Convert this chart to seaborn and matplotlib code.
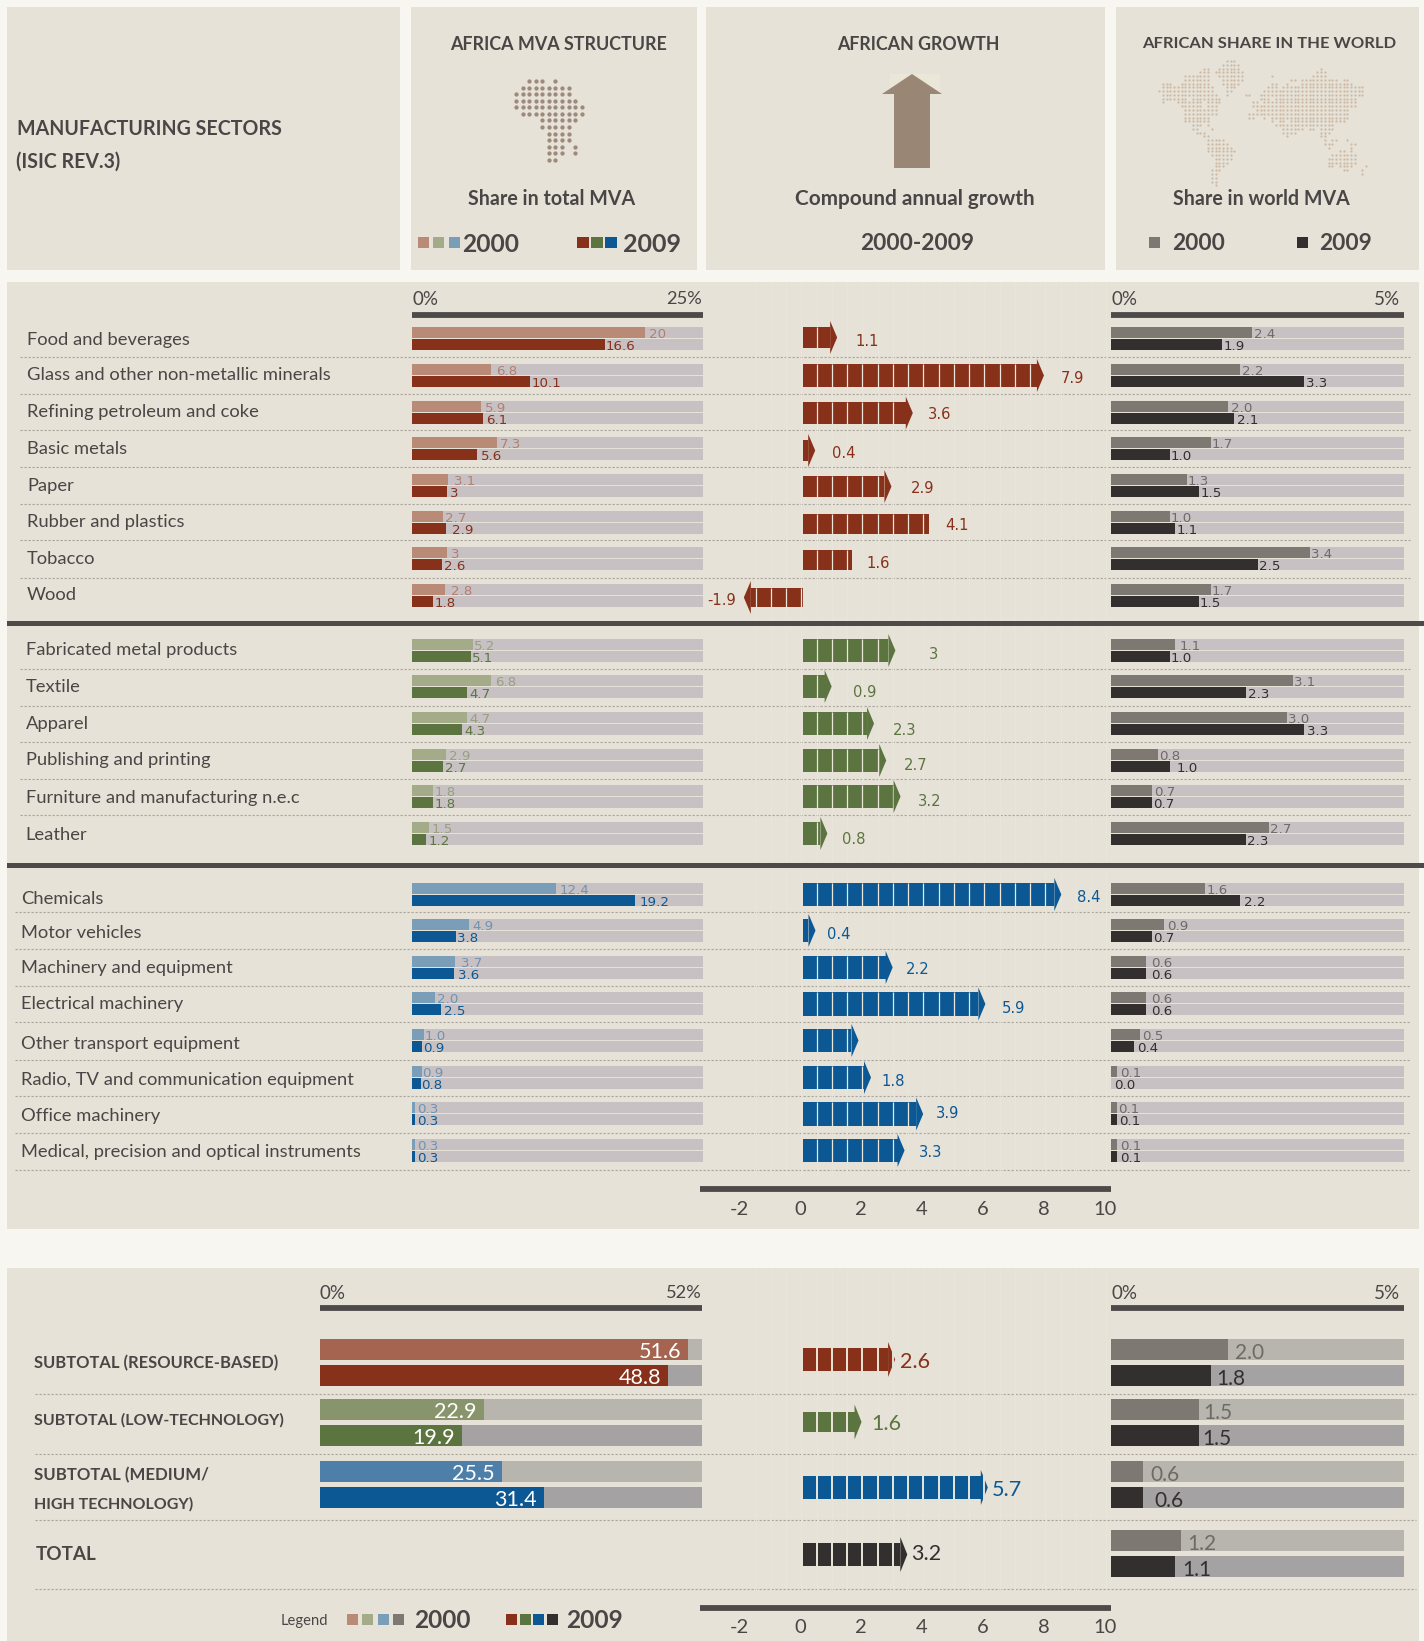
import numpy as np
import pandas as pd
import matplotlib
matplotlib.use("Agg")
import matplotlib.pyplot as plt
import seaborn as sns

sns.set_theme(style="white")
NARROW = ["Lato", "DejaVu Sans"]
WIDE = ["DejaVu Sans"]
plt.rcParams["font.family"] = NARROW

# ------------------------------------------------------------------ data
sectors = ["Food and beverages", "Glass and other non-metallic minerals", "Refining petroleum and coke",
           "Basic metals", "Paper", "Rubber and plastics", "Tobacco", "Wood",
           "Fabricated metal products", "Textile", "Apparel", "Publishing and printing",
           "Furniture and manufacturing n.e.c", "Leather",
           "Chemicals", "Motor vehicles", "Machinery and equipment", "Electrical machinery",
           "Other transport equipment", "Radio, TV and communication equipment", "Office machinery",
           "Medical, precision and optical instruments"]
mva_2000 = [20, 6.8, 5.9, 7.3, 3.1, 2.7, 3, 2.8, 5.2, 6.8, 4.7, 2.9, 1.8, 1.5, 12.4, 4.9, 3.7, 2.0, 1.0, 0.9, 0.3, 0.3]
mva_2009 = [16.6, 10.1, 6.1, 5.6, 3, 2.9, 2.6, 1.8, 5.1, 4.7, 4.3, 2.7, 1.8, 1.2, 19.2, 3.8, 3.6, 2.5, 0.9, 0.8, 0.3, 0.3]
mva_lab_2000 = ["20", "6.8", "5.9", "7.3", "3.1", "2.7", "3", "2.8", "5.2", "6.8", "4.7", "2.9", "1.8", "1.5", "12.4", "4.9", "3.7", "2.0", "1.0", "0.9", "0.3", "0.3"]
mva_lab_2009 = ["16.6", "10.1", "6.1", "5.6", "3", "2.9", "2.6", "1.8", "5.1", "4.7", "4.3", "2.7", "1.8", "1.2", "19.2", "3.8", "3.6", "2.5", "0.9", "0.8", "0.3", "0.3"]
share_2000 = [2.4, 2.2, 2.0, 1.7, 1.3, 1.0, 3.4, 1.7, 1.1, 3.1, 3.0, 0.8, 0.7, 2.7, 1.6, 0.9, 0.6, 0.6, 0.5, 0.1, 0.1, 0.1]
share_2009 = [1.9, 3.3, 2.1, 1.0, 1.5, 1.1, 2.5, 1.5, 1.0, 2.3, 3.3, 1.0, 0.7, 2.3, 2.2, 0.7, 0.6, 0.6, 0.4, 0.0, 0.1, 0.1]
growth_drawn = [1.12, 7.9, 3.6, 0.4, 2.9, 4.14, 1.6, -1.94, 3.03, 0.94, 2.33, 2.73, 3.2, 0.8, 8.47, 0.41, 2.94, 5.98, 1.82, 2.23, 3.94, 3.33]
growth_label = ["1.1", "7.9", "3.6", "0.4", "2.9", "4.1", "1.6", "-1.9", "3", "0.9", "2.3", "2.7", "3.2", "0.8", "8.4", "0.4", "2.2", "5.9", "", "1.8", "3.9", "3.3"]
has_head = [True] * 5 + [False, False] + [True] * 15

sum_names = ["resource", "low", "medium"]
sum_mva_2000 = [51.6, 22.9, 25.5]
sum_mva_2009 = [48.8, 19.9, 31.4]
sum_share_2000 = [2.0, 1.5, 0.55, 1.2]
sum_share_2009 = [1.7, 1.5, 0.55, 1.1]
sum_share_lab_2000 = ["2.0", "1.5", "0.6", "1.2"]
sum_share_lab_2009 = ["1.8", "1.5", "0.6", "1.1"]
sum_growth_drawn = [3.02, 1.92, 6.06, 3.42]
sum_growth_label = ["2.6", "1.6", "5.7", "3.2"]
growth_ticks = [-2, 0, 2, 4, 6, 8, 10]

# dot maps: Africa rows as column runs; world rows as column runs
africa_runs = [[(2, 4), (6, 6)], [(1, 8)], [(0, 8)], [(0, 9)], [(0, 10)], [(1, 10)], [(4, 9)], [(4, 8)],
               [(5, 8)], [(5, 8)], [(5, 7), (9, 9)], [(5, 7), (9, 9)], [(5, 6)]]
world_runs = [[(18, 20)], [(17, 21)], [(12, 13), (16, 21), (43, 43)], [(11, 13), (15, 22), (42, 44)],
              [(7, 13), (16, 22), (30, 30), (41, 44)], [(7, 13), (17, 22), (35, 36), (38, 47), (49, 50)],
              [(1, 3), (6, 13), (17, 21), (30, 31), (34, 34), (38, 48), (49, 51)],
              [(1, 14), (18, 20), (29, 31), (33, 54)], [(0, 14), (18, 19), (28, 54)],
              [(1, 15), (18, 18), (23, 24), (27, 54)], [(1, 7), (9, 13), (14, 16), (27, 29), (31, 52)],
              [(1, 1), (5, 11), (13, 16), (25, 26), (28, 52)], [(6, 11), (13, 15), (25, 50), (51, 52)],
              [(7, 15), (26, 50)], [(7, 15), (24, 49), (50, 50)], [(7, 13), (24, 25), (28, 28), (30, 49), (50, 50)],
              [(7, 13), (30, 30), (32, 33), (35, 48), (49, 49)], [(9, 11), (13, 13), (31, 46)],
              [(9, 10), (14, 14), (33, 38), (40, 41), (43, 46)], [(10, 12), (33, 36), (43, 45)],
              [(12, 13), (34, 34), (43, 44)], [(13, 17), (44, 44), (46, 47), (50, 50)],
              [(13, 18), (44, 46), (51, 52)], [(13, 19), (45, 45), (51, 51)], [(13, 20), (48, 49), (51, 51)],
              [(14, 19), (46, 52)], [(15, 19), (45, 52)], [(15, 18), (45, 52)],
              [(15, 17), (45, 46), (48, 51), (55, 55)], [(14, 16), (49, 50), (54, 54)], [(14, 15), (54, 54)],
              [(14, 15)], [(14, 15)], [(15, 15)]]

# ------------------------------------------------------------------ layout and style
PAGE, PANEL, INK, RULE = "#f7f6f0", "#e6e2d7", "#4a4646", "#4e4a4a"
TRACK, SUM_TRACK_A, SUM_TRACK_B = "#c7c1c3", "#b8b4ae", "#a4a2a2"
C2000 = ["#b98a76", "#a3ab88", "#7a9db8"]
C2000_TXT = ["#b27f70", "#98a07f", "#6f93b2"]
C2009 = ["#87301a", "#5c7540", "#0b5894"]
C2000_SUM = ["#a5644f", "#88946b", "#4d7fa8"]
GREY_A, GREY_B = "#7d7872", "#332f2e"
group = [0] * 8 + [1] * 6 + [2] * 8

row_top = [327, 364, 401, 437, 474, 511, 547, 584, 639, 675, 712, 749, 785, 822,
           883, 919, 956, 992, 1029, 1066, 1102, 1139]
label_y = [339, 374, 411, 448, 485, 521, 558, 594, 648, 686, 722, 759, 797, 833,
           897, 931, 966, 1003, 1042, 1079, 1115, 1151]
label_x = [27] * 8 + [25.7] * 6 + [21] * 8
dot_y = [357, 394, 430, 467, 504, 540, 578, 669, 706, 742, 779, 815, 912, 949, 986, 1022, 1060, 1096, 1133, 1170]
body_top = [327, 364, 402, 440, 476, 514, 550, 588, 639, 675, 712, 749, 785, 822, 883, 919, 956, 992, 1029, 1066, 1102, 1139]
body_bot = [348, 387, 424, 461, 497, 534, 570, 607, 662, 698, 735, 772, 808, 845, 906, 942, 979, 1016, 1052, 1089, 1126, 1162]
growth_lab_y = [340, 377, 413, 452, 487, 524, 562, 599, 653, 691, 729, 764, 800, 838, 896, 933, 968, 1007, 1060, 1080, 1112, 1151]
growth_gap = [18, 17, 15, 17, 19, 16, 15, -8, 33, 21, 19, 17.5, 17.5, 15, 16, 11, 13, 16, 0, 10.6, 12.5, 14]
mva_gap_a = [4, 5, 4.5, 3, 5.5, 1.4, 4, 6, 1.4, 4, 3, 3.7, 2, 2, 3, 3, 6, 2, 1.4, 0, 2, 2]
mva_gap_b = [.5, 2, 3.6, 4, 3, 6, 1.4, 2, 1, 3, 2, 2, 2, 3, 4, 1, 4, 3, 1, 0, 1.5, 1.5]
share_gap_a = [2, 2, 3, 1.4, .5, 1, 1, 1.4, 4, 1.4, 1, 1, 2, .5, 2, 3, 4.6, 4.6, 2, 3, 1.4, 3]
share_gap_b = [1, 2, 3, 1, 2, 1, 2, 1, 1, 2, 3, 7.4, 1, 1, 4, 1.4, 5, 5, 3, 3, 2, 3]

W, H = 1424, 1641
fig = plt.figure(figsize=(W / 100, H / 100), dpi=100, facecolor=PAGE)


def pixel_axes(x0, x1, xlim):
    ax = fig.add_axes([x0 / W, 0, (x1 - x0) / W, 1], facecolor="none")
    ax.set_axis_off()
    ax._final_xlim = xlim
    return ax


bg = pixel_axes(0, W, (0, W))
ax_mva = pixel_axes(412, 703, (0, 25))
ax_mva_sum = pixel_axes(320, 702, (0, 53.5))
ax_share = pixel_axes(1111, 1404, (0, 5))
ax_growth = pixel_axes(700, 1111, (-103 / 30.5, 308 / 30.5))
renderer = fig.canvas.get_renderer()


def bars(ax, values, ypos, color, height):
    """Horizontal seaborn bars on a numeric (pixel-row) y axis."""
    df = pd.DataFrame({"v": values, "y": ypos})
    uniq = np.unique(df["y"])
    spacing = np.min(np.diff(uniq)) if len(uniq) > 1 else 1
    sns.barplot(data=df, x="v", y="y", orient="y", native_scale=True, color=color, saturation=1,
                width=height / spacing, errorbar=None, linewidth=0, ax=ax, zorder=2)


def T(x, y, s, width=None, size=14, ha="left", weight="normal", color=INK, va="center_baseline"):
    t = bg.text(x, y, s, ha=ha, va=va, fontsize=size, fontweight=weight, color=color, family=NARROW, zorder=6)
    if width:
        bb = t.get_window_extent(renderer=renderer)
        t.set_fontsize(size * width / bb.width)
    return t


def V(ax, v, y, s, gap, color, size=9.6, ha="left", family=WIDE, weight="normal"):
    ax.annotate(s, (v, y), xytext=(gap * 0.72, 0), textcoords="offset points", ha=ha, va="center_baseline",
                fontsize=size, color=color, family=family, fontweight=weight, zorder=7, annotation_clip=False)


def rect(x0, x1, y0, y1, color, z=0):
    bg.fill([x0, x1, x1, x0], [y0, y0, y1, y1], color=color, lw=0, zorder=z)


# ------------------------------------------------------------------ panels
for box in [(7, 400, 7, 270), (411, 697, 7, 270), (706, 1105, 7, 270), (1116, 1419, 7, 270),
            (7, 1419, 282, 1229), (7, 1419, 1268, 1641)]:
    rect(box[0], box[1], box[2], box[3], PANEL)
for y0, y1 in [(620.7, 626), (862.7, 868)]:
    rect(7, W, y0, y1, RULE, z=5)
for i, y in enumerate(dot_y):
    x0 = 20 if i < 12 else 15
    bg.plot([x0, 1410], [y, y], color="#a9a59c", lw=0.8, ls=(0, (2.0, 1.6)), zorder=1)
for y in [1394, 1454, 1520, 1589]:
    bg.plot([35, 1416], [y, y], color="#a9a59c", lw=0.8, ls=(0, (2.0, 1.6)), zorder=1)

# ------------------------------------------------------------------ header
T(17, 127, "MANUFACTURING SECTORS", width=264, size=18, weight="bold")
T(16.5, 160, "(ISIC REV.3)", width=104, size=16, weight="bold")
T(559, 43, "AFRICA MVA STRUCTURE", width=218, size=16, ha="center", weight="bold")
T(552, 197, "Share in total MVA", width=167, size=16, ha="center", weight="bold")
T(918.6, 43, "AFRICAN GROWTH", width=163, size=16, ha="center", weight="bold")
T(914.7, 197, "Compound annual growth", width=240, size=16, ha="center", weight="bold")
T(917, 242, "2000-2009", width=114, size=18, ha="center", weight="bold")
T(1269, 43, "AFRICAN SHARE IN THE WORLD", width=252, size=16, ha="center", weight="bold")
T(1261, 197, "Share in world MVA", width=177, size=16, ha="center", weight="bold")
T(462.5, 242, "2000", width=57.5, size=20, weight="bold")
T(623, 242, "2009", width=58, size=20, weight="bold")
T(1172, 242, "2000", width=53, size=20, weight="bold")
T(1319, 242, "2009", width=53, size=20, weight="bold")
for x0, c in zip([418, 433, 449], C2000):
    rect(x0, x0 + 11, 237, 248, c, 2)
for x0, c in zip([577, 591, 605], C2009):
    rect(x0, x0 + 12, 237, 248, c, 2)
rect(1149, 1160, 237, 248, GREY_A, 2)
rect(1297, 1308, 237, 248, GREY_B, 2)

# arrow icon
rect(890, 940, 74, 94, "#eae6d8", 1)
bg.fill([912, 942, 930, 930, 894, 894, 882], [74, 94, 94, 168, 168, 94, 94], color="#9a8674", lw=0, zorder=2)


def dot_map(runs, x_of, y_of, size, color):
    xs, ys = [], []
    for r, row in enumerate(runs):
        for a, b in row:
            for c in range(a, b + 1):
                xs.append(x_of(c))
                ys.append(y_of(r))
    sns.scatterplot(x=xs, y=ys, s=size, color=color, linewidth=0, ax=bg, zorder=2, legend=False)


dot_map(africa_runs, lambda c: 516 + 6.57 * c, lambda r: 81 + 6.57 * r, 9.5, "#9d8a7c")
dot_map(world_runs, lambda c: 1140 + (57 + 11.3 * c) / 3, lambda r: 61 + 11.3 * r / 3, 2.6, "#cdb9a4")

# ------------------------------------------------------------------ upper table
probe = T(0, -50, sectors[1], width=302, size=14.5)
row_size = probe.get_fontsize()
probe.remove()
for i, s in enumerate(sectors):
    T(label_x[i], label_y[i], s, size=row_size, color=INK)

ya = [t + 5.5 for t in row_top]
yb = [t + 17.5 for t in row_top]
bars(ax_mva, [25] * len(ya), ya, TRACK, 11)
bars(ax_mva, [25] * len(yb), yb, TRACK, 11)
bars(ax_share, [5] * len(ya), ya, TRACK, 11)
bars(ax_share, [5] * len(yb), yb, TRACK, 11)
for g in range(3):
    idx = [i for i, gi in enumerate(group) if gi == g]
    bars(ax_mva, [mva_2000[i] for i in idx], [ya[i] for i in idx], C2000[g], 11)
    bars(ax_mva, [mva_2009[i] for i in idx], [yb[i] for i in idx], C2009[g], 11)
bars(ax_share, share_2000, ya, GREY_A, 11)
bars(ax_share, share_2009, yb, GREY_B, 11)

for i in range(len(sectors)):
    g = group[i]
    V(ax_mva, mva_2000[i], ya[i] + 0.5, mva_lab_2000[i], mva_gap_a[i], C2000_TXT[g])
    V(ax_mva, mva_2009[i], yb[i] + 0.5, mva_lab_2009[i], mva_gap_b[i], C2009[g])
    V(ax_share, share_2000[i], ya[i] + 0.5, f"{share_2000[i]:.1f}", share_gap_a[i], "#6f6a66")
    V(ax_share, share_2009[i], yb[i] + 0.5, f"{share_2009[i]:.1f}", share_gap_b[i], GREY_B)

HEAD_LEN = 0.23
seps = np.array([0.45 + 0.5 * k for k in range(-4, 20)])
SEP = "#ebe8db"


def arrow(tip, y0, y1, half, color, head=True, head_z=4, sep_lw=0.9, cut_head=False):
    mid = (y0 + y1) / 2
    sign = 1 if tip >= 0 else -1
    end = tip - sign * HEAD_LEN if head else tip
    lo, hi = sorted((0, end))
    bars(ax_growth, [end], [mid], color, y1 - y0)
    ax_growth.vlines(seps[(seps > lo) & (seps < hi)], y0, y1, color=SEP, lw=sep_lw, zorder=3)
    if head:
        ax_growth.fill([end, tip, end], [mid - half, mid, mid + half], color=color, lw=0, zorder=head_z)
        if cut_head:
            ax_growth.vlines(seps[(seps >= end) & (seps < tip)], mid - half, mid + half, color=PANEL, lw=sep_lw, zorder=head_z + 1)


for i in range(len(sectors)):
    c = C2009[group[i]]
    arrow(growth_drawn[i], body_top[i], body_bot[i], 16.5, c, has_head[i])
    if growth_label[i]:
        ha = "right" if growth_drawn[i] < 0 else "left"
        V(ax_growth, growth_drawn[i], growth_lab_y[i], growth_label[i], growth_gap[i], c, size=10.6, ha=ha)

# ------------------------------------------------------------------ lower table
sum_labels = [("SUBTOTAL (RESOURCE-BASED)", 34, 1362, 246), ("SUBTOTAL (LOW-TECHNOLOGY)", 34, 1419, 251),
              ("SUBTOTAL (MEDIUM/", 34, 1474, 175), ("HIGH TECHNOLOGY)", 34, 1503, 160)]
for s, x, y, w in sum_labels:
    T(x, y, s, width=w, size=14, weight="bold")
T(36, 1553, "TOTAL", width=61, size=18, weight="bold")

lya = [1349.5, 1409.5, 1471.5]
lyb = [1375.5, 1435.5, 1497.5]
bars(ax_mva_sum, [53.5] * 3, lya, SUM_TRACK_A, 21)
bars(ax_mva_sum, [53.5] * 3, lyb, SUM_TRACK_B, 21)
for g in range(3):
    bars(ax_mva_sum, [sum_mva_2000[g]], [lya[g]], C2000_SUM[g], 21)
    bars(ax_mva_sum, [sum_mva_2009[g]], [lyb[g]], C2009[g], 21)
    V(ax_mva_sum, sum_mva_2000[g], lya[g] + 1, str(sum_mva_2000[g]), -7, "white", size=15.5, ha="right", family=NARROW)
    V(ax_mva_sum, sum_mva_2009[g], lyb[g] + 1, str(sum_mva_2009[g]), -7, "white", size=15.5, ha="right", family=NARROW)

rya = [1349.5, 1409.5, 1471.5, 1540.5]
ryb = [1375.5, 1435.5, 1497.5, 1566.5]
bars(ax_share, [5] * 4, rya, SUM_TRACK_A, 21)
bars(ax_share, [5] * 4, ryb, SUM_TRACK_B, 21)
bars(ax_share, sum_share_2000, rya, GREY_A, 21)
bars(ax_share, sum_share_2009, ryb, GREY_B, 21)
sum_gap_a, sum_gap_b = [7, 4, 7, 6], [6, 3, 11, 7]
for i in range(4):
    V(ax_share, sum_share_2000[i], rya[i] + 1.5, sum_share_lab_2000[i], sum_gap_a[i], "#6f6a66", size=15, family=NARROW)
    V(ax_share, sum_share_2009[i], ryb[i] + 1.5, sum_share_lab_2009[i], sum_gap_b[i], GREY_B, size=15, family=NARROW)

sum_colors = C2009 + [GREY_B]
sum_top = [1348, 1412, 1476, 1543]
sum_bot = [1371, 1432, 1499, 1566]
sum_lab_y = [1360, 1422, 1488, 1552]
sum_lab_gap = [5, 9.4, 4, 4]
for i in range(4):
    arrow(sum_growth_drawn[i], sum_top[i], sum_bot[i], 17.5, sum_colors[i], True, head_z=2, sep_lw=1.4, cut_head=True)
    V(ax_growth, sum_growth_drawn[i], sum_lab_y[i], sum_growth_label[i], sum_lab_gap[i],
      sum_colors[i], size=15.5, family=NARROW)

# very faint column guides behind the arrows
for y0, y1 in [(282, 620), (627, 862), (869, 1176), (1268, 1590)]:
    ax_growth.vlines(seps, y0, y1, color="#e9e6da", lw=0.6, zorder=0.5)

# scale bars and captions
for ax, y in [(ax_mva, 315), (ax_share, 315), (ax_mva_sum, 1308), (ax_share, 1308),
              (ax_growth, 1189), (ax_growth, 1607.5)]:
    ax.axhline(y, color=RULE, lw=4.2, solid_capstyle="butt", zorder=5)

TICK = 14.5
for x0, x1, y, right in [(412.5, 702, 298, "25%"), (1111, 1400, 298, "5%"), (320, 702, 1292, "52%"), (1111, 1400, 1292, "5%")]:
    T(x0, y, "0%", width=26, size=TICK)
    T(x1, y, right, width=36 if right != "5%" else 26, size=TICK, ha="right")
for ybase in (1208, 1626):
    for tk in growth_ticks:
        ax_growth.annotate(str(tk), (tk, ybase), xytext=(-2.2, 0), textcoords="offset points", ha="center",
                           va="center_baseline", fontsize=TICK, color=INK, family=NARROW, annotation_clip=False)

# bottom legend
T(280.6, 1620, "Legend", width=47, size=13, color=INK)
for x0, c in zip([347, 362, 378, 393], C2000 + [GREY_A]):
    rect(x0, x0 + 11, 1614, 1625, c, 2)
for x0, c in zip([506, 520, 533, 547], C2009 + [GREY_B]):
    rect(x0, x0 + 11, 1614, 1625, c, 2)
T(414, 1619, "2000", width=57, size=20, weight="bold")
T(566, 1619, "2009", width=57, size=20, weight="bold")

# pixel-row scale for every axes
for ax in fig.axes:
    ax.set_xlim(*ax._final_xlim)
    ax.set_ylim(H, 0)
    ax.set_xlabel("")
    ax.set_ylabel("")

fig.savefig("out.png", dpi=100, facecolor=PAGE)
